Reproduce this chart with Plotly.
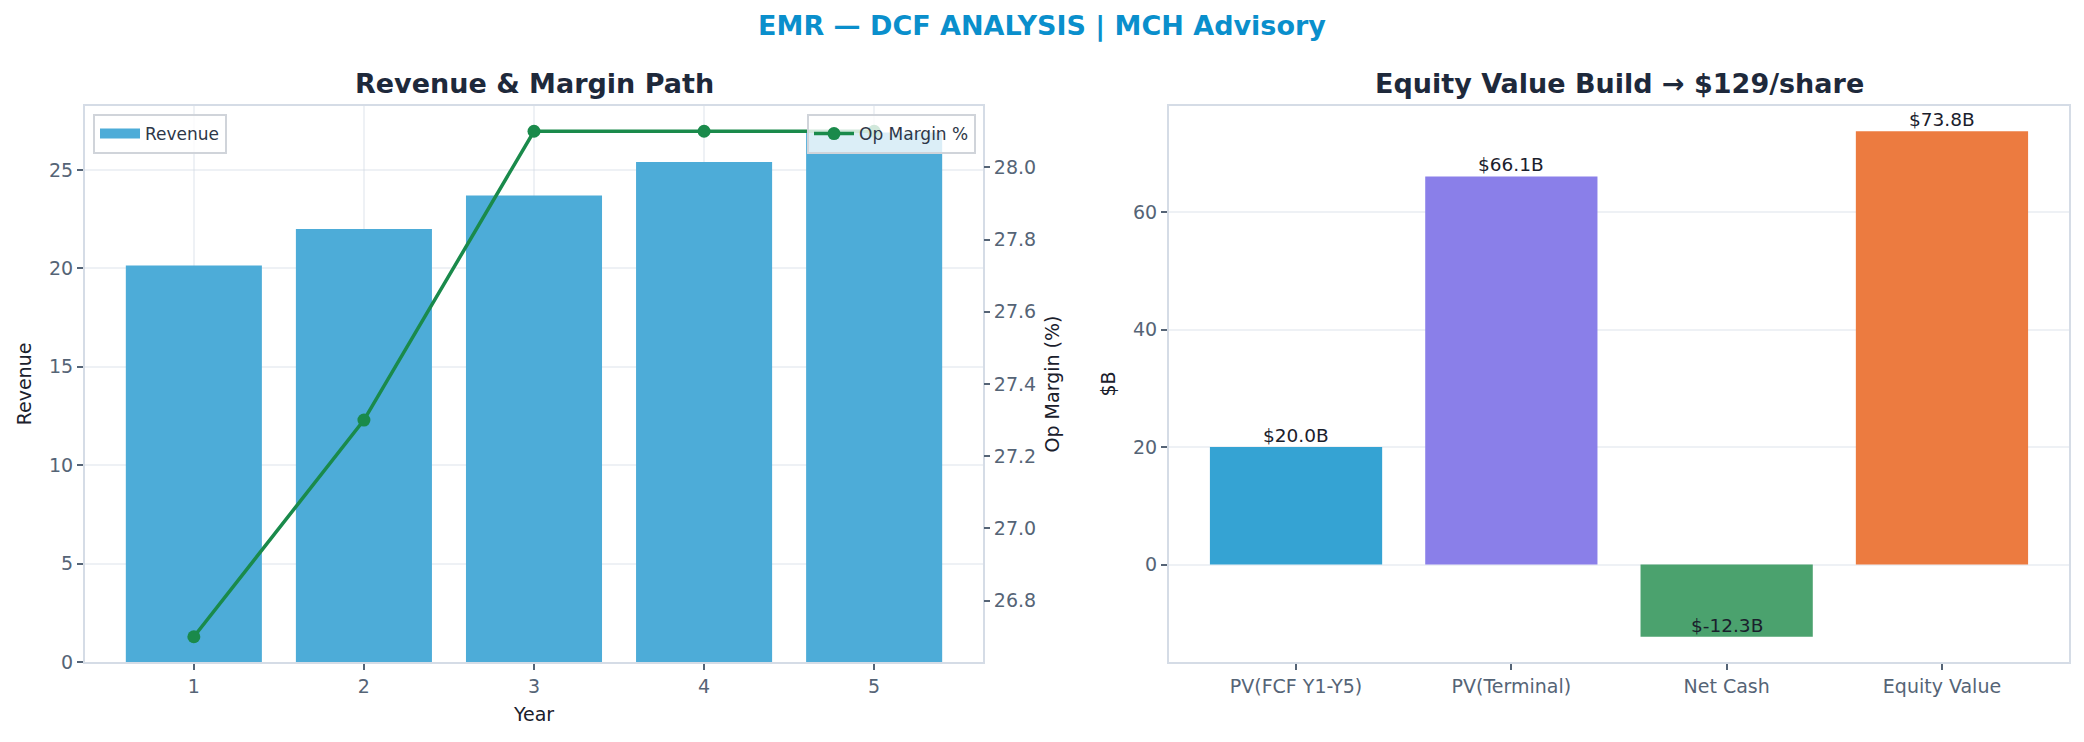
import plotly.graph_objects as go
from plotly.subplots import make_subplots

# Revenue & margin path
years = [1, 2, 3, 4, 5]
revenue = [20.15, 22.0, 23.7, 25.4, 26.9]
op_margin = [26.7, 27.3, 28.1, 28.1, 28.1]

# Equity value build
build_labels = ["PV(FCF Y1-Y5)", "PV(Terminal)", "Net Cash", "Equity Value"]
build_values = [20.0, 66.1, -12.3, 73.8]
build_colors = ["#35a3d3", "#8a7fe9", "#4ba26e", "#ec7b40"]

W, H = 2084, 742
FONT = "DejaVu Sans"
TICK_C = "#556476"
SPINE = "#d5dce6"
GRID = "rgba(205,214,226,0.35)"
REV_C = "#4dacd8"

fig = make_subplots(rows=1, cols=2, specs=[[{"secondary_y": True}, {}]])

fig.add_trace(go.Bar(x=years, y=revenue, name="Revenue", width=0.8, showlegend=False,
                     marker=dict(color=REV_C, line=dict(width=0))),
              row=1, col=1, secondary_y=False)
# legend entry drawn as a wide patch, like matplotlib's bar handle
fig.add_trace(go.Scatter(x=[None], y=[None], name="Revenue", mode="lines",
                         line=dict(color=REV_C, width=12), legend="legend"),
              row=1, col=1, secondary_y=False)
fig.add_trace(go.Scatter(x=years, y=op_margin, name="Op Margin %", mode="lines+markers",
                         line=dict(color="#1a8a4b", width=3.5),
                         marker=dict(size=13, color="#1a8a4b"),
                         legend="legend2"), row=1, col=1, secondary_y=True)

fig.add_trace(go.Bar(x=build_labels, y=build_values, width=0.8, showlegend=False,
                     marker=dict(color=build_colors, line=dict(width=0))), row=1, col=2)

# value labels sit on the bar end, like matplotlib va='bottom'
for lab, v in zip(build_labels, build_values):
    fig.add_annotation(x=lab, y=v, xref="x2", yref="y3", text=f"${v:.1f}B",
                       showarrow=False, yanchor="bottom", yshift=-1,
                       font=dict(family=FONT, size=18.5, color="#1a202c"))

axis_common = dict(showline=True, linecolor=SPINE, linewidth=2, mirror=True,
                   ticks="outside", ticklen=6, tickwidth=2, tickcolor=TICK_C,
                   tickfont=dict(family=FONT, size=19, color=TICK_C),
                   zeroline=False, layer="above traces", automargin=False)

fig.update_layout(
    width=W, height=H,
    margin=dict(l=0, r=0, t=0, b=0),
    paper_bgcolor="white", plot_bgcolor="white",
    font=dict(family=FONT),
    title=dict(text="<b>EMR — DCF ANALYSIS | MCH Advisory</b>", x=0.5, xanchor="center",
               y=1 - 26 / H, yanchor="middle",
               font=dict(family=FONT, size=27, color="#0a8fcc")),
    xaxis=dict(domain=[85 / W, 983 / W], range=[0.36, 5.64], tickvals=years,
               showgrid=True, gridcolor=GRID, gridwidth=1.5,
               title=dict(text="Year", standoff=12,
                          font=dict(family=FONT, size=19, color="#1a202c")),
               **axis_common),
    yaxis=dict(domain=[1 - 662 / H, 1 - 106 / H], range=[0, 28.25], dtick=5,
               showgrid=True, gridcolor=GRID, gridwidth=1.5,
               title=dict(text="Revenue", standoff=12,
                          font=dict(family=FONT, size=19, color="#1a202c")),
               **axis_common),
    yaxis2=dict(range=[26.63, 28.17], dtick=0.2, tickformat=".1f", showgrid=False,
                showline=False, ticks="outside", ticklen=6, tickwidth=2, tickcolor=TICK_C,
                tickfont=dict(family=FONT, size=19, color=TICK_C), zeroline=False,
                automargin=False,
                title=dict(text="Op Margin (%)", standoff=10,
                           font=dict(family=FONT, size=19, color="#1a202c"))),
    xaxis2=dict(domain=[1169 / W, 2069 / W], range=[-0.59, 3.59], showgrid=False,
                **axis_common),
    yaxis3=dict(domain=[1 - 662 / H, 1 - 106 / H], range=[-16.6, 78.1], dtick=20,
                showgrid=True, gridcolor=GRID, gridwidth=1.5,
                title=dict(text="$B", standoff=12,
                           font=dict(family=FONT, size=19, color="#1a202c")),
                **axis_common),
    legend=dict(x=93 / W, y=1 - 114 / H, xanchor="left", yanchor="top",
                bgcolor="rgba(255,255,255,0.8)", bordercolor="#d0d4da", borderwidth=2,
                itemwidth=40, font=dict(family=FONT, size=17, color="#2d3748")),
    legend2=dict(x=976 / W, y=1 - 114 / H, xanchor="right", yanchor="top",
                 bgcolor="rgba(255,255,255,0.8)", bordercolor="#d0d4da", borderwidth=2,
                 itemwidth=40, font=dict(family=FONT, size=17, color="#2d3748")),
)

for txt, cx in [("<b>Revenue & Margin Path</b>", (85 + 983) / 2 / W),
                ("<b>Equity Value Build → $129/share</b>", (1169 + 2069) / 2 / W)]:
    fig.add_annotation(x=cx, y=1 - 83 / H, xref="paper", yref="paper", text=txt,
                       showarrow=False, xanchor="center", yanchor="middle",
                       font=dict(family=FONT, size=27, color="#1e293b"))

# drop the browser's default body margin so the figure sits at the window origin
fig.write_html("out.html", config={"displayModeBar": False},
               post_script="document.body.style.margin='0px';")
